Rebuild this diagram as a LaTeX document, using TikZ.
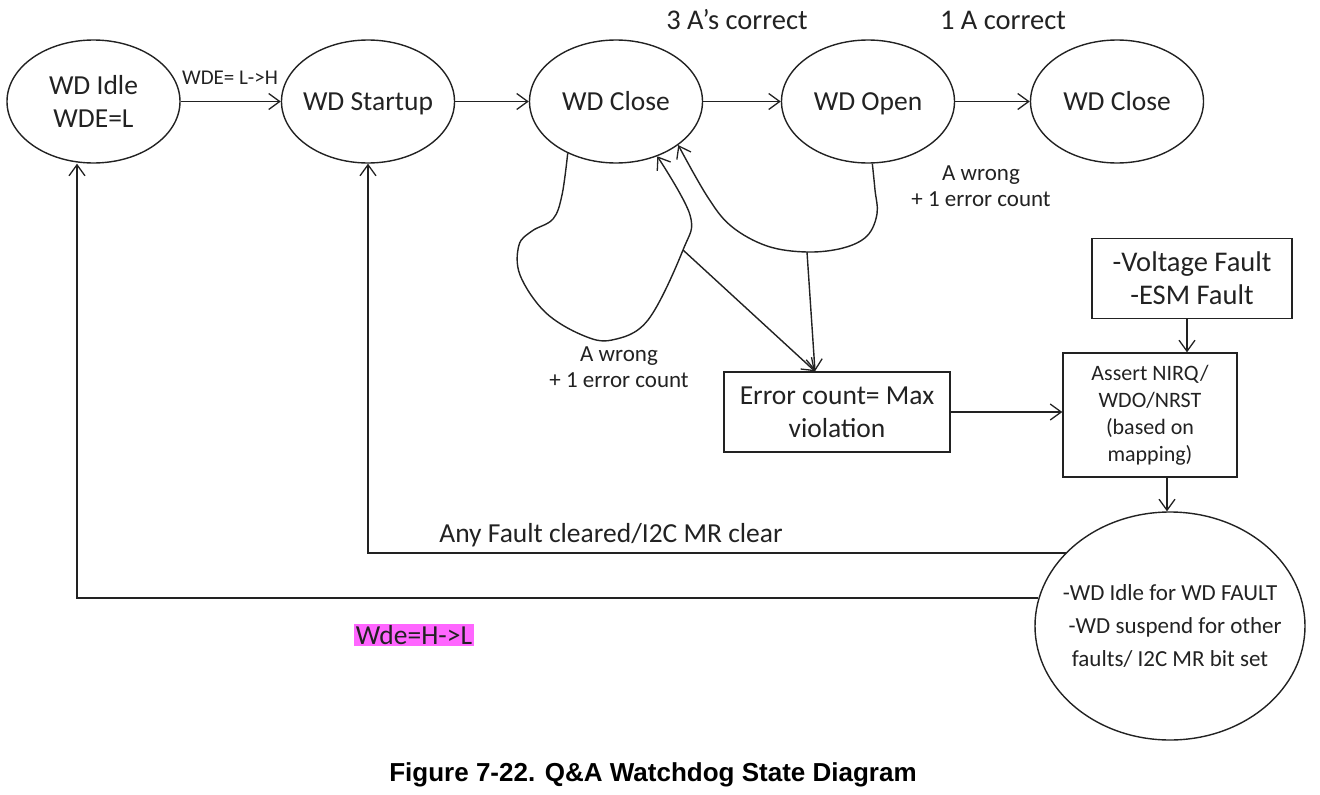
\documentclass[tikz,border=0pt]{standalone}
\usepackage{fontspec}
\setmainfont{Carlito}
\newfontfamily\capfont{Liberation Sans}
\usetikzlibrary{shapes.geometric,arrows.meta,calc}
\definecolor{hl}{HTML}{FF66FF}
\definecolor{ink}{HTML}{222222}
\begin{document}
\begin{tikzpicture}[x=1pt,y=-1pt,
  conn/.style={draw=ink, line width=1.4pt},
  arr/.style={conn, -{Straight Barb[length=11pt,width=16pt,line width=1.3pt]}},
  st/.style={ellipse, conn, minimum width=173pt, minimum height=123pt, inner sep=0pt},
  boxnode/.style={rectangle, conn, inner sep=0pt, align=center},
  one/.style={text height=22pt, text depth=4.6pt},
  ftL/.style={font=\fontsize{27.5}{33}\selectfont, text=ink},
  ftT/.style={font=\fontsize{28.5}{33}\selectfont, text=ink},
  ftM/.style={font=\fontsize{22}{27}\selectfont, text=ink},
  ftS/.style={font=\fontsize{21}{24}\selectfont, text=ink},
  ftA/.style={font=\fontsize{23}{26}\selectfont, text=ink, align=center},
]
\useasboundingbox (0,0) rectangle (1320,795);

% states
\node[st, label={[ftL,align=center]center:{WD Idle\\WDE=L}}] (idle) at (93.5,101.5) {};
\node[st, label={[ftL,one]center:WD Startup}] (startup) at (368,101.5) {};
\node[st, label={[ftL,one]center:WD Close}] (close) at (616,101.5) {};
\node[st, label={[ftL,one]center:WD Open}] (open) at (868,101.5) {};
\node[st, label={[ftL,one]center:WD Close}] (close2) at (1117,101.5) {};

% boxes
\node[boxnode, ftL, minimum width=226pt, minimum height=80pt] (err) at (837,412) {Error count= Max\\violation};
\node[boxnode, ftT, minimum width=200pt, minimum height=80pt] (volt) at (1192,278.5) {-Voltage Fault\\-ESM Fault};
\node[boxnode, ftM, minimum width=174pt, minimum height=124pt] (asrt) at (1150,415) {Assert NIRQ/\\WDO/NRST\\(based on\\mapping)};
\node[st, minimum width=270pt, minimum height=228pt,
  label={[text=ink,font=\fontsize{23}{33}\selectfont,align=center]center:{-WD Idle for WD FAULT\\\ \ -WD suspend for other\\faults/ I2C MR bit set}}] (big) at (1170,626) {};

% labels
\node[ftS] (lwde) at (230,78) {WDE= L->H};
\node[ftT] (l3a) at (737,20) {3 A’s correct};
\node[ftT] (l1a) at (1003,20) {1 A correct};
\node[ftA] (awr1) at (981,186) {A wrong\\+ 1 error count};
\node[ftA] (awr2) at (619,367) {A wrong\\+ 1 error count};
\node[ftL] (anyf) at (611,535) {Any Fault cleared/I2C MR clear};
\node[ftL, fill=hl, inner xsep=1.5pt, inner ysep=1pt] (wdehl) at (414,635) {Wde=H->L};
\node[font=\capfont\bfseries\fontsize{26}{30}\selectfont, text=black] (cap) at (653,775) {Figure 7-22. Q\&A Watchdog State Diagram};

% main chain
\draw[arr] (idle) -- (startup);
\draw[arr] (startup) -- (close);
\draw[arr] (close) -- (open);
\draw[arr] (open) -- (close2);

% loops
\coordinate (lj) at (683,250);
\coordinate (rj) at (807,252);
\coordinate (errin) at ($(err.north)+(-22,0)$);
\draw[arr] plot[smooth, tension=0.6] coordinates {(close.227) (562,195) (553,219) (532,231) (519,245) (520,275) (545,312) (582,335) (612,340) (648,320) (lj) (690,215) (close.-53)};
\draw[arr] plot[smooth, tension=0.6] coordinates {(open.-86) (875,190) (877,214) (867,236) (843,248) (rj) (767,246) (731,226) (707,196) (close.-35)};
\draw[arr] (lj) -- (errin);
\draw[arr] (rj) -- (errin);

% fault path
\draw[arr] (err.east) -- (err.east -| asrt.west);
\coordinate (vs) at ($(volt.south)+(-5,0)$);
\draw[arr] (vs) -- (vs |- asrt.north);
\coordinate (as) at ($(asrt.south)+(17,0)$);
\draw[arr] (as) -- (as |- big.north);

% return paths
\draw[arr] (big.145) -| (startup.south);
\coordinate (idlein) at ($(idle.south)+(-16.5,0)$);
\draw[arr] (big.168) -| (idlein);
\end{tikzpicture}
\end{document}
